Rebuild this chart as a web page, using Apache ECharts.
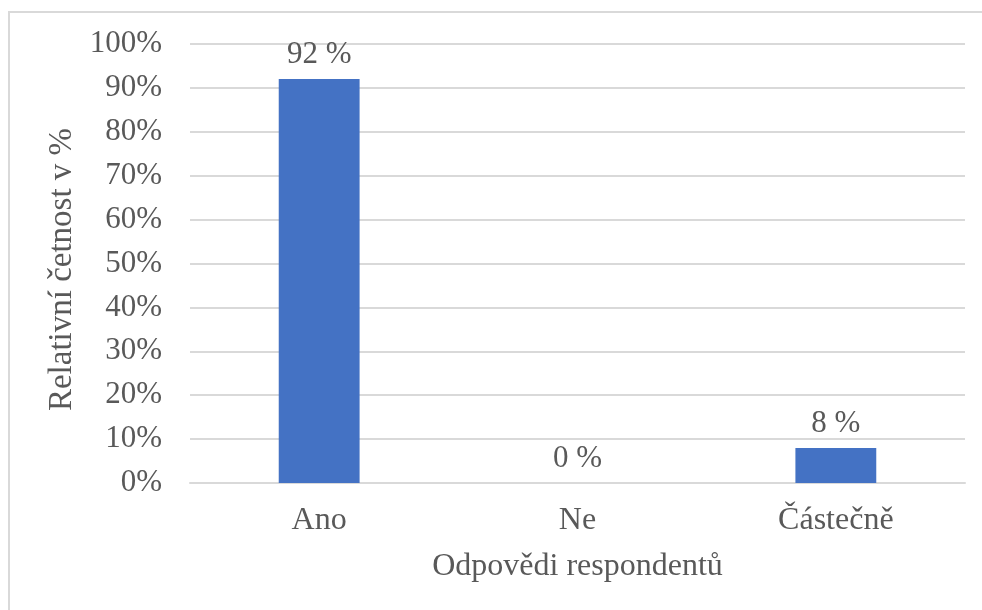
<!DOCTYPE html>
<html>
<head>
<meta charset="utf-8">
<script src="https://cdn.jsdelivr.net/npm/echarts@6/dist/echarts.min.js"></script>
<style>
  html, body { margin: 0; padding: 0; background: #fff; }
  #chart { width: 982px; height: 610px; }
</style>
</head>
<body>
<div id="chart"></div>
<script>
// Answer categories and their relative frequencies (%)
const categories = ['Ano', 'Ne', 'Částečně'];
const shares = [92, 0, 8];
const yTicks = [0, 10, 20, 30, 40, 50, 60, 70, 80, 90, 100];

const FONT = '"Liberation Serif", "Times New Roman", serif';
const TEXT = '#595959';

const chart = echarts.init(document.getElementById('chart'), null, { renderer: 'canvas' });
chart.setOption({
  animation: false,
  backgroundColor: '#fff',
  textStyle: { fontFamily: FONT },
  graphic: [{
    type: 'rect',
    shape: { x: 9, y: 12, width: 1000, height: 700 },
    style: { fill: 'none', stroke: '#d9d9d9', lineWidth: 2 },
    silent: true
  }],
  grid: { left: 190, right: 17, top: 44, bottom: 127, containLabel: false },
  xAxis: {
    type: 'category',
    data: categories,
    name: 'Odpovědi respondentů',
    nameLocation: 'middle',
    nameGap: 68,
    nameTextStyle: { color: TEXT, fontSize: 32, fontFamily: FONT },
    axisLine: { show: true, lineStyle: { color: '#d9d9d9', width: 2 } },
    axisTick: { show: false },
    axisLabel: { color: TEXT, fontSize: 32, fontFamily: FONT, margin: 22 }
  },
  yAxis: {
    type: 'value',
    min: yTicks[0],
    max: yTicks[yTicks.length - 1],
    interval: 10,
    name: 'Relativní četnost v %',
    nameLocation: 'middle',
    nameGap: 111,
    nameTextStyle: { color: TEXT, fontSize: 33, fontFamily: FONT, padding: [0, 12, 0, 0] },
    axisLine: { show: false },
    axisTick: { show: false },
    splitLine: { lineStyle: { color: '#d9d9d9', width: 2 } },
    axisLabel: { color: TEXT, fontSize: 31, fontFamily: FONT, margin: 28, formatter: '{value}%' }
  },
  series: [{
    type: 'bar',
    data: shares,
    barWidth: '31.3%',
    itemStyle: { color: '#4472C4' },
    label: {
      show: true,
      position: 'top',
      distance: 9,
      color: TEXT,
      fontSize: 31,
      fontFamily: FONT,
      formatter: '{c} %'
    }
  }]
});
</script>
</body>
</html>
